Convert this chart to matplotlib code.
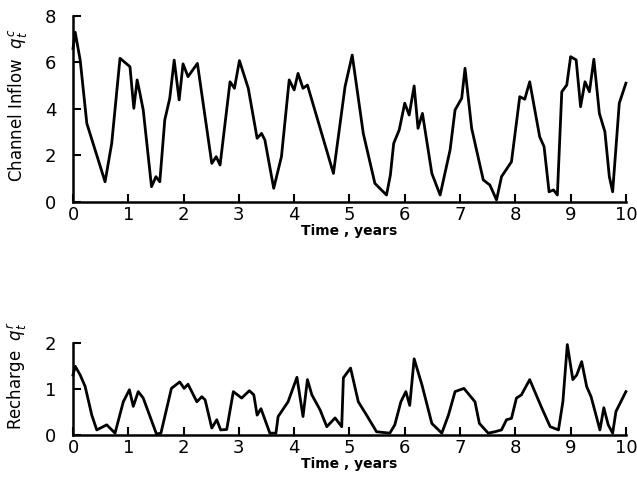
import numpy as np
import matplotlib
matplotlib.use("Agg")
import matplotlib.pyplot as plt

# channel inflow (years, value)
inflow_t = [0.0, 0.04, 0.13, 0.25, 0.58, 0.70, 0.85, 1.03, 1.10, 1.16, 1.21, 1.27,
            1.42, 1.50, 1.57, 1.66, 1.75, 1.83, 1.92, 1.99, 2.08, 2.25, 2.51, 2.59,
            2.66, 2.84, 2.92, 3.01, 3.17, 3.33, 3.41, 3.47, 3.63, 3.77, 3.91, 4.00,
            4.07, 4.16, 4.24, 4.71, 4.92, 5.05, 5.25, 5.46, 5.67, 5.74, 5.80, 5.90,
            6.00, 6.08, 6.17, 6.24, 6.32, 6.49, 6.64, 6.82, 6.91, 7.03, 7.09, 7.21,
            7.42, 7.54, 7.66, 7.75, 7.93, 8.08, 8.17, 8.26, 8.44, 8.52, 8.61, 8.69,
            8.76, 8.84, 8.93, 9.00, 9.10, 9.18, 9.26, 9.34, 9.42, 9.52, 9.62, 9.70,
            9.76, 9.88, 10.0]
inflow_q = [6.6, 7.3, 6.1, 3.38, 0.87, 2.52, 6.18, 5.82, 4.03, 5.25, 4.68, 3.96,
            0.66, 1.09, 0.87, 3.53, 4.46, 6.1, 4.39, 5.94, 5.39, 5.96, 1.66, 1.95,
            1.59, 5.17, 4.89, 6.08, 4.89, 2.74, 2.95, 2.67, 0.59, 1.95, 5.25, 4.82,
            5.53, 4.89, 5.03, 1.23, 4.96, 6.32, 2.95, 0.80, 0.30, 1.16, 2.52, 3.10,
            4.25, 3.74, 4.99, 3.17, 3.81, 1.23, 0.30, 2.24, 3.96, 4.46, 5.75, 3.17,
            0.95, 0.73, 0.09, 1.09, 1.73, 4.53, 4.42, 5.17, 2.81, 2.38, 0.44, 0.52,
            0.30, 4.74, 5.03, 6.25, 6.11, 4.10, 5.17, 4.74, 6.14, 3.81, 3.02, 1.09,
            0.44, 4.25, 5.11]

# recharge
rech_t = [0.0, 0.04, 0.13, 0.22, 0.34, 0.43, 0.61, 0.76, 0.91, 1.02, 1.09, 1.18,
          1.27, 1.51, 1.59, 1.78, 1.93, 2.01, 2.08, 2.24, 2.33, 2.39, 2.51, 2.60,
          2.67, 2.78, 2.90, 3.05, 3.19, 3.27, 3.33, 3.40, 3.56, 3.67, 3.71, 3.89,
          4.05, 4.16, 4.24, 4.32, 4.47, 4.59, 4.74, 4.86, 4.89, 5.02, 5.16, 5.31,
          5.49, 5.73, 5.82, 5.93, 6.02, 6.09, 6.17, 6.31, 6.49, 6.67, 6.79, 6.91,
          7.07, 7.27, 7.35, 7.51, 7.63, 7.75, 7.84, 7.93, 8.02, 8.11, 8.26, 8.48,
          8.63, 8.78, 8.86, 8.94, 9.04, 9.11, 9.20, 9.29, 9.37, 9.53, 9.60, 9.68,
          9.76, 9.82, 10.0]
rech_q = [1.3, 1.49, 1.30, 1.05, 0.43, 0.11, 0.22, 0.04, 0.72, 0.98, 0.62, 0.94,
          0.80, 0.02, 0.04, 1.01, 1.15, 1.01, 1.10, 0.72, 0.83, 0.76, 0.15, 0.33,
          0.11, 0.12, 0.94, 0.80, 0.96, 0.87, 0.43, 0.57, 0.04, 0.04, 0.40, 0.72,
          1.25, 0.40, 1.20, 0.87, 0.54, 0.18, 0.37, 0.18, 1.24, 1.45, 0.72, 0.43,
          0.07, 0.04, 0.22, 0.72, 0.94, 0.64, 1.65, 1.09, 0.25, 0.04, 0.43, 0.94,
          1.01, 0.72, 0.25, 0.04, 0.07, 0.11, 0.33, 0.36, 0.80, 0.87, 1.20, 0.58,
          0.18, 0.11, 0.72, 1.96, 1.20, 1.30, 1.59, 1.05, 0.83, 0.11, 0.59, 0.22,
          0.04, 0.51, 0.94]

x_ticks = list(range(0, 11))

plt.rcParams['font.family'] = 'DejaVu Sans'

fig = plt.figure(figsize=(6.37, 4.87), dpi=100)
ax1 = fig.add_axes([0.1146, 0.5852, 0.868, 0.382])
ax2 = fig.add_axes([0.1146, 0.1068, 0.868, 0.1895])


def style(ax, ymax, yticks):
    ax.set_xlim(0, 10)
    ax.set_ylim(0, ymax)
    ax.spines['top'].set_visible(False)
    ax.spines['right'].set_visible(False)
    for s in ['left', 'bottom']:
        ax.spines[s].set_linewidth(1.8)
    ax.set_xticks(x_ticks)
    ax.set_yticks(yticks)
    ax.tick_params(direction='in', length=6, width=1.5, labelsize=13)
    ax.tick_params(axis='x', pad=3)
    ax.tick_params(axis='y', pad=12)


ax1.plot(inflow_t, inflow_q, color='black', lw=2.0, clip_on=False)
style(ax1, 8, [0, 2, 4, 6, 8])
ax1.set_xlabel('Time , years', fontsize=10, fontweight='bold', labelpad=0)
ax1.set_ylabel(r'Channel Inflow  $q_t^c$', fontsize=12)
ax1.yaxis.set_label_coords(-0.08, 0.52)

ax2.plot(rech_t, rech_q, color='black', lw=2.0, clip_on=False)
style(ax2, 2, [0, 1, 2])
ax2.set_xlabel('Time , years', fontsize=10, fontweight='bold', labelpad=0)
ax2.set_ylabel(r'Recharge  $q_t^r$', fontsize=12)
ax2.yaxis.set_label_coords(-0.08, 0.64)

fig.savefig('out.png', dpi=100)
